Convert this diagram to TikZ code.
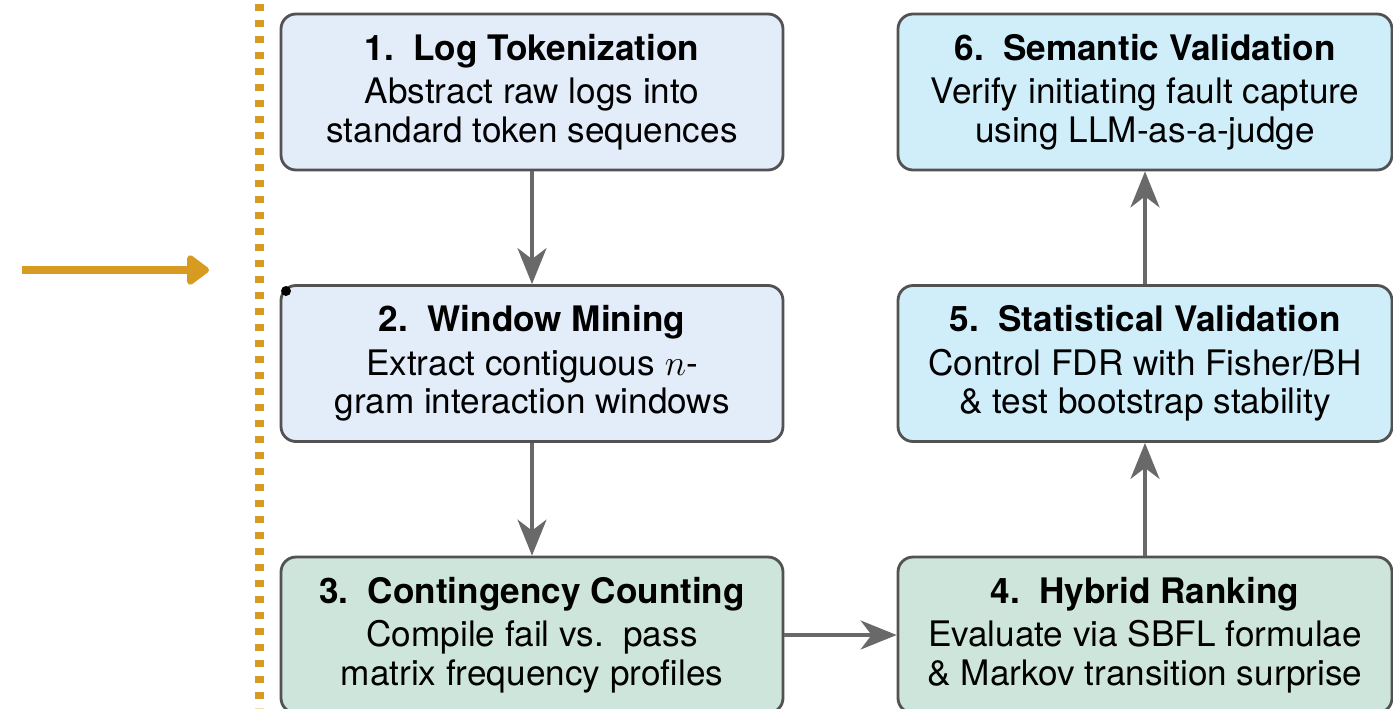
\documentclass[tikz,border=0pt]{standalone}
\usepackage{fontspec}
\setmainfont{TeX Gyre Heros}
\usetikzlibrary{arrows.meta}

\definecolor{stepgray}{RGB}{82,82,82}
\definecolor{arrowgray}{RGB}{105,105,105}
\definecolor{tokblue}{RGB}{227,236,249}
\definecolor{cntgreen}{RGB}{206,229,219}
\definecolor{valcyan}{RGB}{207,238,250}
\definecolor{marker}{RGB}{214,155,32}

\newcommand{\stagefont}{\fontsize{20}{22}\selectfont\xspaceskip 0.55em\relax}

\begin{document}
\begin{tikzpicture}[
    stage/.style={rectangle, rounded corners=0.3cm, draw=stepgray, line width=1.6pt,
        minimum height=3.12cm, align=center, font=\stagefont},
    flow/.style={-{Stealth[length=0.72cm, width=0.58cm, inset=0.22cm]}, draw=arrowgray, line width=1.9pt}
]
    \useasboundingbox (0,0) rectangle (27.86,-14.16);

    % marker on the left
    \coordinate (feed) at (0.44,-5.4);
    \coordinate (entry) at (4.18,-5.4);
    \draw[-{Triangle[length=0.48cm, width=0.68cm, round]}, marker, line width=0.16cm] (feed) -- (entry);
    \coordinate (railtop) at (5.19,0);
    \coordinate (railbot) at (5.19,-14.16);
    \draw[marker, line width=0.18cm, dash pattern=on 0.14cm off 0.18cm, dash phase=0.24cm] (railtop) -- (railbot);

    % left column
    \node[stage, fill=tokblue, minimum width=10.04cm] (tok) at (10.64,-1.84)
        {\textbf{1. Log Tokenization}\\[0.1cm] Abstract raw logs into\\ standard token sequences};
    \node[stage, fill=tokblue, minimum width=10.04cm] (win) at (10.64,-7.27)
        {\textbf{2. Window Mining}\\[0.1cm] Extract contiguous $n$-\\ gram interaction windows};
    \node[stage, fill=cntgreen, minimum width=10.04cm] (cnt) at (10.64,-12.70)
        {\textbf{3. Contingency Counting}\\[0.1cm] Compile fail vs. pass\\ matrix frequency profiles};

    % right column
    \node[stage, fill=cntgreen, minimum width=9.88cm] (rank) at (22.90,-12.70)
        {\textbf{4. Hybrid Ranking}\\[0.1cm] Evaluate via SBFL formulae\\ \& Markov transition surprise};
    \node[stage, fill=valcyan, minimum width=9.88cm] (stat) at (22.90,-7.27)
        {\textbf{5. Statistical Validation}\\[0.1cm] Control FDR with Fisher/BH\\ \& test bootstrap stability};
    \node[stage, fill=valcyan, minimum width=9.88cm] (sem) at (22.90,-1.84)
        {\textbf{6. Semantic Validation}\\[0.1cm] Verify initiating fault capture\\ using LLM-as-a-judge};

    \fill (5.72,-5.82) circle (0.1);

    \draw[flow] (tok) -- (win);
    \draw[flow] (win) -- (cnt);
    \draw[flow] (cnt) -- (rank);
    \draw[flow] (rank) -- (stat);
    \draw[flow] (stat) -- (sem);
\end{tikzpicture}
\end{document}
